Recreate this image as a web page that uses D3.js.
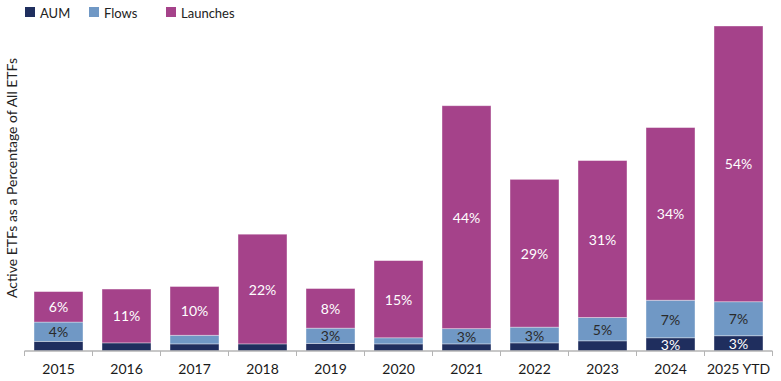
<!DOCTYPE html>
<html>
<head>
<meta charset="utf-8">
<script src="https://cdn.jsdelivr.net/npm/d3@7"></script>
<style>
  html, body { margin: 0; padding: 0; background: #fff; }
  svg { display: block; font-family: Lato, "Open Sans", sans-serif; }
</style>
</head>
<body>
<svg id="chart" width="781" height="381"></svg>
<script>
const categories = ["2015","2016","2017","2018","2019","2020","2021","2022","2023","2024","2025 YTD"];
const aum      = [1.9, 1.6, 1.4, 1.4, 1.5, 1.4, 1.4, 1.6, 2.0, 2.6, 3.0];
const flows    = [3.8, 0.0, 1.7, 0.0, 3.0, 1.2, 3.0, 3.1, 4.6, 7.4, 6.7];
const launches = [6.0, 10.6, 9.6, 21.6, 7.8, 15.2, 43.9, 29.1, 30.9, 34.0, 54.3];
const seriesNames = ["AUM", "Flows", "Launches"];
const colors = ["#1f2e5e", "#7098c5", "#a5428a"];
const labelColors = ["#ffffff", "#2a2a2a", "#ffffff"];
const labelThreshold = 2.5;

const svg = d3.select("#chart");
const baseY = 351, topY = 26;

const rows = categories.map((c, i) => ({cat: c, AUM: aum[i], Flows: flows[i], Launches: launches[i]}));
const stacked = d3.stack().keys(seriesNames)(rows);

const x = d3.scaleBand().domain(categories).range([24.5, 772.5]).paddingInner(0.28).paddingOuter(0.14);
const y = d3.scaleLinear().domain([0, 64]).range([baseY, topY]);

// bars
stacked.forEach((layer, si) => {
  const g = svg.append("g");
  g.selectAll("rect").data(layer).join("rect")
    .attr("x", d => x(d.data.cat))
    .attr("width", x.bandwidth())
    .attr("y", d => y(d[1]))
    .attr("height", d => Math.max(0, y(d[0]) - y(d[1])))
    .attr("fill", colors[si])
    .attr("stroke", d => (d[1] - d[0]) > 0 ? "rgba(255,255,255,0.45)" : "none")
    .attr("stroke-width", 0.8);
  g.selectAll("text").data(layer.filter(d => (d[1] - d[0]) >= labelThreshold)).join("text")
    .attr("x", d => x(d.data.cat) + x.bandwidth() / 2)
    .attr("y", d => (y(d[0]) + y(d[1])) / 2)
    .attr("text-anchor", "middle")
    .attr("dominant-baseline", "central")
    .attr("font-size", 14)
    .attr("fill", labelColors[si])
    .text(d => Math.round(d[1] - d[0]) + "%");
});

// x axis
const axisG = svg.append("g").attr("transform", `translate(0,${baseY})`);
axisG.call(d3.axisBottom(x).tickSize(0).tickPadding(13))
  .call(g => g.select(".domain").remove())
  .call(g => g.selectAll("text").attr("font-size", 14).attr("fill", "#1a1a1a").attr("font-family", "Lato, 'Open Sans', sans-serif"));
axisG.append("line").attr("x1", x.range()[0]).attr("x2", x.range()[1])
  .attr("y1", 0).attr("y2", 0).attr("stroke", "#b4b4b4").attr("stroke-width", 1.5);
const step = x.step();
const boundaries = categories.map(c => x(c) - step * x.paddingInner() / 2).concat([x.range()[1]]);
axisG.selectAll("line.tick").data(boundaries).join("line")
  .attr("class", "tick")
  .attr("x1", d => d).attr("x2", d => d)
  .attr("y1", 0).attr("y2", 5)
  .attr("stroke", "#b4b4b4").attr("stroke-width", 1);

// y title
svg.append("text")
  .attr("transform", "translate(11,178) rotate(-90)")
  .attr("text-anchor", "middle")
  .attr("dominant-baseline", "central")
  .attr("font-size", 14)
  .attr("fill", "#222")
  .text("Active ETFs as a Percentage of All ETFs");

// legend
const legendX = [25, 89, 166];
const legend = svg.append("g");
seriesNames.forEach((n, i) => {
  legend.append("rect").attr("x", legendX[i]).attr("y", 7).attr("width", 10).attr("height", 10).attr("fill", colors[i]);
  legend.append("text").attr("x", legendX[i] + 15).attr("y", 12.5)
    .attr("dominant-baseline", "central").attr("font-size", 13).attr("fill", "#222").text(n);
});
</script>
</body>
</html>
